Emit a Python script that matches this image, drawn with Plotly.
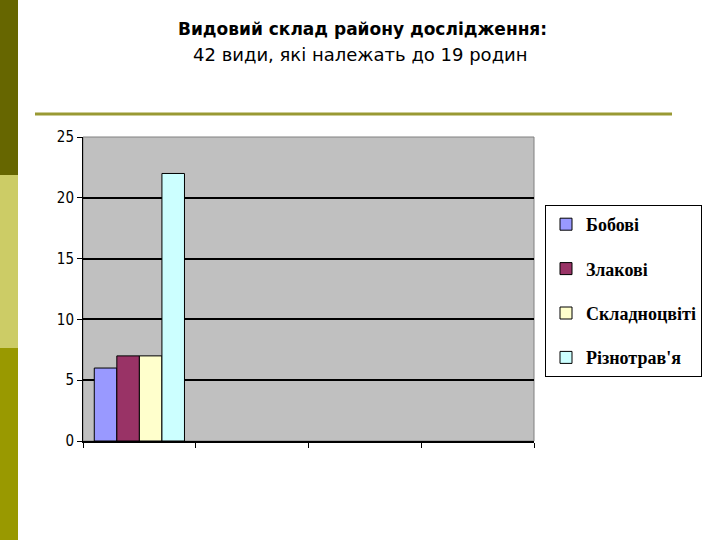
import plotly.graph_objects as go

# ---- data ----
categories = ["Група 1", "Група 2", "Група 3", "Група 4"]
series_names = ["Бобові", "Злакові", "Складноцвіті", "Різнотрав'я"]
series_values = [6, 7, 7, 22]
series_colors = ["#9999FF", "#993366", "#FFFFCC", "#CCFFFF"]
y_ticks = [0, 5, 10, 15, 20, 25]
title_main = "Видовий склад району дослідження:"
title_sub = "42 види, які належать до 19 родин"

W, H = 720, 540
L, R, T, B = 83, 534, 137, 441

def px(x):
    return (x - L) / (R - L)

def py(y):
    return (B - y) / (B - T)

fig = go.Figure()
for i, (name, val, col) in enumerate(zip(series_names, series_values, series_colors)):
    fig.add_trace(go.Bar(
        x=[categories[0]], y=[val], name=name,
        marker=dict(color=col, line=dict(color="black", width=1)),
        legendgroup=name,
    ))

fig.update_layout(
    width=W, height=H,
    margin=dict(l=L, r=W - R, t=T, b=H - B),
    paper_bgcolor="white",
    plot_bgcolor="#C0C0C0",
    barmode="group", bargap=0.2, bargroupgap=0,
    showlegend=True,
    legend=dict(
        x=px(545), y=py(205), xanchor="left", yanchor="top",
        bgcolor="white", bordercolor="black", borderwidth=1,
        font=dict(family="Liberation Serif", size=18, color="black", weight="bold"),
        traceorder="grouped", tracegroupgap=18,
        itemwidth=30,
    ),
    xaxis=dict(
        type="category", categoryorder="array", categoryarray=categories,
        range=[-0.5, 3.5], showticklabels=False,
        tickson="boundaries", ticks="outside", ticklen=5, tickcolor="black",
        showline=True, linecolor="black", linewidth=2, showgrid=False,
        zeroline=False,
    ),
    yaxis=dict(
        range=[0, 25], tickvals=y_ticks, ticks="outside", ticklen=5,
        tickcolor="black",
        tickfont=dict(family="DejaVu Sans Condensed, Liberation Sans Narrow", size=15, color="black"),
        showline=True, linecolor="black", linewidth=1,
        showgrid=True, gridcolor="black", gridwidth=2, zeroline=False,
    ),
    font=dict(family="DejaVu Sans"),
)

shapes = [
    # plot area border
    dict(type="rect", xref="paper", yref="paper", x0=0, x1=1, y0=0, y1=1,
         line=dict(color="#808080", width=1), layer="below"),
    # left stripe
    dict(type="rect", xref="paper", yref="paper", x0=px(0), x1=px(18), y0=py(0), y1=py(175),
         fillcolor="#666600", line=dict(width=0)),
    dict(type="rect", xref="paper", yref="paper", x0=px(0), x1=px(18), y0=py(175), y1=py(348),
         fillcolor="#CCCC66", line=dict(width=0)),
    dict(type="rect", xref="paper", yref="paper", x0=px(0), x1=px(18), y0=py(348), y1=py(540),
         fillcolor="#999900", line=dict(width=0)),
    # horizontal rule
    dict(type="line", xref="paper", yref="paper", x0=px(35), x1=px(672), y0=py(114), y1=py(114),
         line=dict(color="#999933", width=3)),
]
fig.update_layout(shapes=shapes)

fig.add_annotation(text="<b>" + title_main + "</b>", xref="paper", yref="paper",
                   x=px(362), y=py(29), xanchor="center", yanchor="middle", showarrow=False,
                   font=dict(family="DejaVu Sans", size=17, color="black"))
fig.add_annotation(text=title_sub, xref="paper", yref="paper",
                   x=px(360), y=py(54), xanchor="center", yanchor="middle", showarrow=False,
                   font=dict(family="DejaVu Sans", size=18, color="black"))

fig.write_html("out.html", config={"displayModeBar": False},
               post_script="document.body.style.margin='0';")
